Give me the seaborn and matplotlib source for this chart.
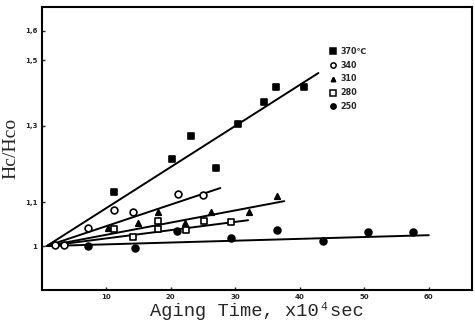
import numpy as np
import pandas as pd
import seaborn as sns
import matplotlib
matplotlib.use("Agg")
import matplotlib.pyplot as plt
from matplotlib.lines import Line2D

# aging time (x10^4 sec) and Hc/Hco
t370 = [11.2, 20.2, 23.2, 27.1, 30.5, 34.5, 36.4, 40.7]
h370 = [1.125, 1.209, 1.271, 1.186, 1.305, 1.369, 1.415, 1.415]
t340 = [2.1, 3.5, 7.2, 11.2, 14.2, 21.2, 25.0]
h340 = [1.002, 1.002, 1.040, 1.082, 1.077, 1.120, 1.118]
t310 = [10.3, 15.0, 18.1, 22.2, 26.3, 32.2, 36.5]
h310 = [1.040, 1.051, 1.077, 1.052, 1.077, 1.077, 1.115]
t280 = [11.2, 14.2, 18.1, 18.1, 22.4, 25.2, 29.4]
h280 = [1.038, 1.020, 1.056, 1.038, 1.036, 1.056, 1.054]
t250 = [7.2, 14.5, 21.0, 29.4, 36.5, 43.6, 50.6, 57.6]
h250 = [1.000, 0.996, 1.033, 1.018, 1.036, 1.011, 1.031, 1.031]

# fitted lines: start and end points
line_t0, line_h0 = 0.8, 1.0
line_end = {
    "370": (42.9, 1.459),
    "340": (27.7, 1.135),
    "310": (37.6, 1.103),
    "280": (32.0, 1.058),
    "250": (60.0, 1.024),
}

series = [
    ("370", t370, h370, "s", "black"),
    ("340", t340, h340, "o", "white"),
    ("310", t310, h310, "^", "black"),
    ("280", t280, h280, "s", "white"),
    ("250", t250, h250, "o", "black"),
]
legend_labels = ["370\u2103", "340", "310", "280", "250"]

sns.set_style("ticks")
fig = plt.figure(figsize=(4.75, 3.26), dpi=100)
ax = fig.add_axes([0.0874, 0.1104, 0.9063, 0.868])

for name, t, h, m, fc in series:
    te, he = line_end[name]
    ldf = pd.DataFrame({"t": [line_t0, te], "h": [line_h0, he]})
    sns.lineplot(data=ldf, x="t", y="h", color="black", lw=1.4, ax=ax)
    df = pd.DataFrame({"t": t, "h": h})
    sz = 16 if m == "^" else 24
    sns.scatterplot(data=df, x="t", y="h", marker=m, s=sz, facecolor=fc,
                    edgecolor="black", linewidth=1.2, ax=ax, zorder=3)

ax.set_yscale("log")
ax.set_xlim(0, 66.7)
ax.set_ylim(0.9085, 1.685)
ax.set_yticks([1, 1.1, 1.3, 1.5, 1.6])
ax.set_yticklabels(["1", "1,1", "1,3", "1,5", "1,6"])
ax.yaxis.set_minor_locator(matplotlib.ticker.NullLocator())
ax.set_xticks([10, 20, 30, 40, 50, 60])
ax.set_xticklabels(["10", "20", "30", "40", "50", "60"])
ax.tick_params(direction="in", length=2.5, width=1, labelsize=5, pad=3)
for lab in ax.get_xticklabels() + ax.get_yticklabels():
    lab.set_fontweight("bold")
for sp in ax.spines.values():
    sp.set_linewidth(1.5)
    sp.set_color("black")

ax.set_xlabel("Aging Time, x10\u2074sec", fontsize=13.5,
              family=["Liberation Mono", "DejaVu Sans Mono"], labelpad=1)
ax.set_ylabel("Hc/Hco", fontsize=14, family=["Liberation Serif", "DejaVu Serif"],
              labelpad=4)

handles = [Line2D([], [], ls="none", marker=m, ms=3.8 if m != "^" else 3.2,
                  mfc=fc, mec="black", mew=1.1, color="black")
           for _, _, _, m, fc in series]
leg = ax.legend(handles, legend_labels, loc="upper left",
                bbox_to_anchor=(0.652, 0.885), frameon=False, fontsize=5.8,
                handlelength=0.8, handletextpad=0.6, labelspacing=0.6)
for txt in leg.get_texts():
    txt.set_fontweight("bold")
    txt.set_family(["DejaVu Sans"])

fig.savefig("out.png", dpi=100)
